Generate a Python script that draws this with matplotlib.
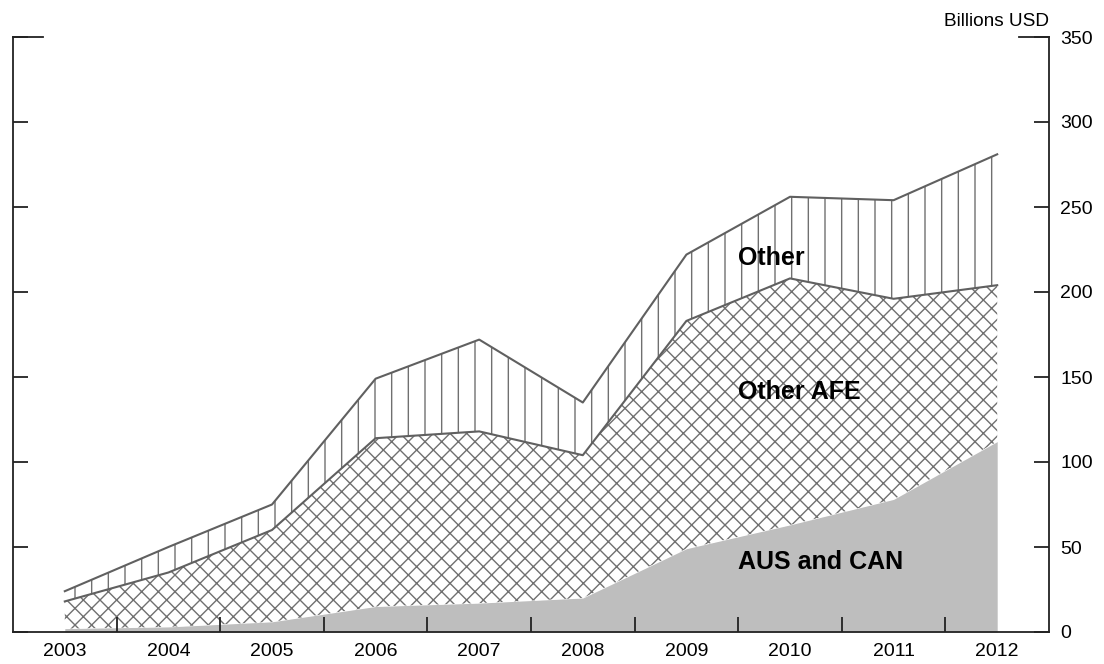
import matplotlib.pyplot as plt
import numpy as np

plt.rcParams['font.family'] = ['Liberation Sans', 'DejaVu Sans']
plt.rcParams['hatch.linewidth'] = 1.0

years = [2003, 2004, 2005, 2006, 2007, 2008, 2009, 2010, 2011, 2012]
aus_can = [2, 3, 6, 15, 17, 20, 49, 63, 78, 112]
other_afe = [16, 32, 54, 99, 101, 84, 134, 145, 118, 92]
other = [6, 15, 15, 35, 54, 31, 39, 48, 58, 77]

x = np.array(years)
y1 = np.array(aus_can)
y2 = y1 + np.array(other_afe)
y3 = y2 + np.array(other)

fig = plt.figure(figsize=(11.04, 6.64), dpi=100)
ax = fig.add_axes([13/1104, 32/664, 1036/1104, 595/664])

ax.fill_between(x, 0, y1, color='#bebebe', linewidth=0)
ax.fill_between(x, y1, y2, facecolor='white', edgecolor='#707070', hatch='xx', linewidth=0)
ax.fill_between(x, y2, y3, facecolor='white', edgecolor='#707070', hatch='|', linewidth=0)
ax.plot(x, y2, color='#606060', lw=1.5)
ax.plot(x, y3, color='#606060', lw=1.5)

ax.set_xlim(2002.5, 2012.5)
ax.set_ylim(0, 350)

ax.spines['top'].set_visible(False)
for s in ['left', 'right', 'bottom']:
    ax.spines[s].set_linewidth(1.3)
    ax.spines[s].set_color('#222222')

ax.set_xticks(np.arange(2003.5, 2012, 1))
ax.set_xticklabels([])
ax.set_xticks(years, minor=True)
ax.set_xticklabels([str(y) for y in years], minor=True, fontsize=14)
ax.tick_params(axis='x', which='major', direction='in', length=11, width=1.3, color='#222222')
ax.tick_params(axis='x', which='minor', length=0, pad=8)

ax.set_yticks(np.arange(0, 351, 50))
ax.yaxis.tick_right()
ax.tick_params(axis='y', direction='in', length=11, width=1.3, color='#222222',
               left=True, right=True, labelleft=False, labelright=True,
               labelsize=14, pad=8)

# longer marks at top of both spines
ax.plot([0, 0.029], [1, 1], transform=ax.transAxes, color='#222222', lw=1.3, clip_on=False)
ax.plot([0.971, 1], [1, 1], transform=ax.transAxes, color='#222222', lw=1.3, clip_on=False)

ax.text(1.0, 1.012, 'Billions USD', transform=ax.transAxes, ha='right', va='bottom', fontsize=13.7)

ax.text(2009.5, 220, 'Other', fontsize=18, fontweight='bold', va='center')
ax.text(2009.5, 141, 'Other AFE', fontsize=18, fontweight='bold', va='center')
ax.text(2009.5, 41, 'AUS and CAN', fontsize=18, fontweight='bold', va='center')

fig.savefig('out.png', dpi=100)
